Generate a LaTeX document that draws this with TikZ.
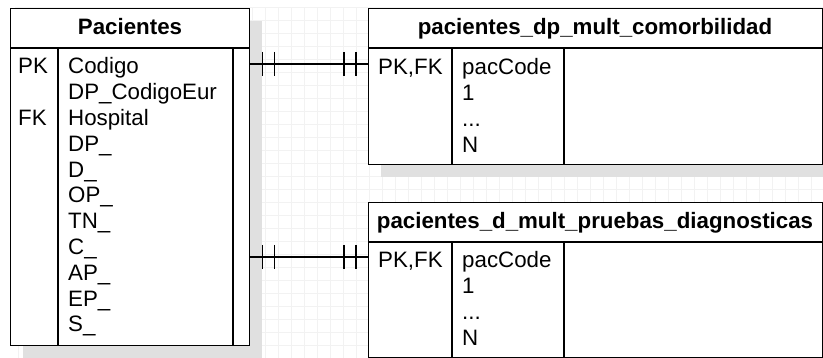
\documentclass[tikz,border=0pt]{standalone}
\usepackage{fontspec}
\setmainfont{Liberation Sans}
\usetikzlibrary{shadows}
\newcommand{\tresp}{...}
\begin{document}
\begin{tikzpicture}[x=1pt,y=-1pt,
    tabla/.style={draw, line width=1.4pt, fill=white, inner sep=0pt, anchor=north west,
      drop shadow={shadow xshift=12pt, shadow yshift=-12pt, fill=black!12, opacity=1}},
    linea/.style={line width=1.4pt},
    campo/.style={anchor=base west, inner sep=0pt, font=\fontsize{22.3}{26}\selectfont},
    titulo/.style={anchor=base, inner sep=0pt, font=\fontsize{22.3}{26}\selectfont\bfseries},
    rel/.style={line width=1.3pt},
    rejilla/.style={black!5, line width=0.7pt}]
    \useasboundingbox (0,0) rectangle (823,358);

    % fondo cuadriculado
    \foreach \gx in {18,31,...,823} \draw[rejilla] (\gx,7) -- (\gx,358);
    \foreach \gy in {7,20,...,358} \draw[rejilla] (15,\gy) -- (823,\gy);

    % tablas
    \node[tabla, minimum width=239pt, minimum height=337pt] (pac) at (10,8) {};
    \node[tabla, minimum width=454pt, minimum height=156pt] (com) at (368,8) {};
    \node[tabla, minimum width=454pt, minimum height=155pt] (pru) at (368,202) {};

    \draw[linea] (10,48) -- (249,48);
    \draw[linea] (58,48) -- (58,345);
    \draw[linea] (233,48) -- (233,345);

    \draw[linea] (368,48) -- (822,48);
    \draw[linea] (452,48) -- (452,164);
    \draw[linea] (564,48) -- (564,164);

    \draw[linea] (368,242) -- (822,242);
    \draw[linea] (452,242) -- (452,357);
    \draw[linea] (564,242) -- (564,357);

    % Pacientes
    \node[titulo] (pact) at (130,35) {Pacientes};
    \node[campo] (pacpk) at (18,74) {PK};
    \node[campo] (pacfk) at (18,125.6) {FK};
    \foreach \f [count=\i from 0] in {Codigo,DP\_CodigoEur,Hospital,DP\_,D\_,OP\_,TN\_,C\_,AP\_,EP\_,S\_}
        \node[campo] (pacf\i) at (68,74+25.8*\i) {\f};

    % pacientes_dp_mult_comorbilidad
    \node[titulo] (comt) at (595,35) {pacientes\_dp\_mult\_comorbilidad};
    \node[campo] (comk) at (378,75) {PK,FK};
    \foreach \f [count=\i from 0] in {pacCode,1,\tresp,N}
        \node[campo] (comf\i) at (462,75+26*\i) {\f};

    % pacientes_d_mult_pruebas_diagnosticas
    \node[titulo] (prut) at (595,229) {pacientes\_d\_mult\_pruebas\_diagnosticas};
    \node[campo] (pruk) at (378,268) {PK,FK};
    \foreach \f [count=\i from 0] in {pacCode,1,\tresp,N}
        \node[campo] (pruf\i) at (462,268+26*\i) {\f};

    % relaciones uno a uno
    \coordinate (a1) at (pac.east |- 0,64);
    \coordinate (b1) at (com.west |- 0,64);
    \coordinate (a2) at (pac.east |- 0,257);
    \coordinate (b2) at (pru.west |- 0,257);
    \draw[rel] (a1) -- (b1);
    \draw[rel] (a2) -- (b2);
    \foreach \d in {12,24} {
        \draw[rel] ([xshift=\d pt]a1) ++(0,-12) -- ++(0,24);
        \draw[rel] ([xshift=-\d pt]b1) ++(0,-12) -- ++(0,24);
        \draw[rel] ([xshift=\d pt]a2) ++(0,-12) -- ++(0,24);
        \draw[rel] ([xshift=-\d pt]b2) ++(0,-12) -- ++(0,24);
    }
\end{tikzpicture}
\end{document}
